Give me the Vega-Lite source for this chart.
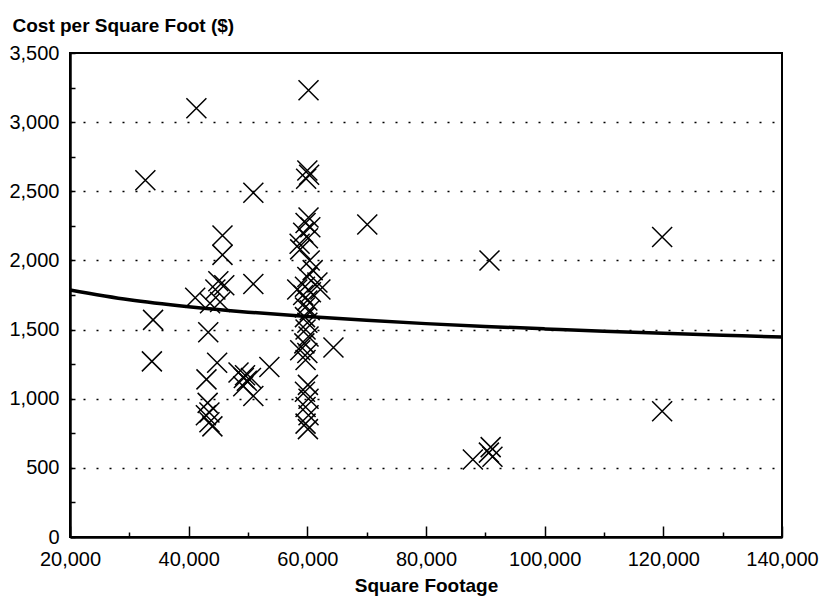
{
  "$schema": "https://vega.github.io/schema/vega-lite/v6.json",
  "width": 712,
  "height": 484,
  "autosize": {"type": "none"},
  "padding": {"left": 70, "top": 53, "right": 37, "bottom": 63},
  "background": "white",
  "config": {
    "view": {"stroke": "black", "strokeWidth": 2},
    "axis": {
      "labelFont": "Liberation Sans",
      "labelFontSize": 20,
      "labelColor": "black",
      "titleFont": "Liberation Sans",
      "titleFontSize": 19,
      "titleFontWeight": "bold",
      "titleColor": "black",
      "domainColor": "black",
      "domainWidth": 2.5,
      "tickColor": "black",
      "tickWidth": 1.5
    }
  },
  "datasets": {
    "points": [
      {"sqft": 32700, "cost": 2580}, {"sqft": 41300, "cost": 3100}, {"sqft": 60200, "cost": 3230},
      {"sqft": 34000, "cost": 1570}, {"sqft": 33800, "cost": 1270}, {"sqft": 50900, "cost": 2490},
      {"sqft": 70100, "cost": 2260}, {"sqft": 90700, "cost": 2000}, {"sqft": 119800, "cost": 2170},
      {"sqft": 119800, "cost": 910}, {"sqft": 87900, "cost": 560}, {"sqft": 90600, "cost": 610},
      {"sqft": 90900, "cost": 650}, {"sqft": 91200, "cost": 580}, {"sqft": 64400, "cost": 1370},
      {"sqft": 53600, "cost": 1230},
      {"sqft": 41100, "cost": 1730}, {"sqft": 43600, "cost": 1690}, {"sqft": 44500, "cost": 1790},
      {"sqft": 45000, "cost": 1850}, {"sqft": 46000, "cost": 1820}, {"sqft": 45300, "cost": 1700},
      {"sqft": 45700, "cost": 2180}, {"sqft": 45700, "cost": 2040}, {"sqft": 43300, "cost": 1480},
      {"sqft": 44800, "cost": 1260}, {"sqft": 43000, "cost": 1140}, {"sqft": 43200, "cost": 970},
      {"sqft": 43500, "cost": 900}, {"sqft": 42900, "cost": 880}, {"sqft": 43500, "cost": 830},
      {"sqft": 44000, "cost": 800}, {"sqft": 50900, "cost": 1830}, {"sqft": 48400, "cost": 1190},
      {"sqft": 49500, "cost": 1170}, {"sqft": 50500, "cost": 1150}, {"sqft": 49200, "cost": 1090},
      {"sqft": 50900, "cost": 1020}, {"sqft": 49800, "cost": 1130}, {"sqft": 49300, "cost": 1150},
      {"sqft": 60000, "cost": 2650}, {"sqft": 59800, "cost": 2590}, {"sqft": 60300, "cost": 2620},
      {"sqft": 60200, "cost": 2310}, {"sqft": 59700, "cost": 2270}, {"sqft": 60500, "cost": 2240},
      {"sqft": 59300, "cost": 2200}, {"sqft": 60100, "cost": 2160}, {"sqft": 58700, "cost": 2120},
      {"sqft": 58800, "cost": 2080}, {"sqft": 60400, "cost": 2000}, {"sqft": 60900, "cost": 1930},
      {"sqft": 60000, "cost": 1880}, {"sqft": 61700, "cost": 1840}, {"sqft": 59600, "cost": 1810},
      {"sqft": 62200, "cost": 1790}, {"sqft": 58300, "cost": 1790}, {"sqft": 60600, "cost": 1770},
      {"sqft": 59300, "cost": 1750}, {"sqft": 60000, "cost": 1710}, {"sqft": 59600, "cost": 1660},
      {"sqft": 60400, "cost": 1640}, {"sqft": 59600, "cost": 1590}, {"sqft": 60000, "cost": 1550},
      {"sqft": 59700, "cost": 1500}, {"sqft": 60200, "cost": 1450}, {"sqft": 59500, "cost": 1400},
      {"sqft": 58800, "cost": 1350}, {"sqft": 60000, "cost": 1330}, {"sqft": 59700, "cost": 1280},
      {"sqft": 60100, "cost": 1100}, {"sqft": 59600, "cost": 1050}, {"sqft": 60200, "cost": 1000},
      {"sqft": 59700, "cost": 940}, {"sqft": 60200, "cost": 880}, {"sqft": 59700, "cost": 820},
      {"sqft": 60100, "cost": 780}
    ],
    "trend": [
      {"sqft": 20000, "cost": 1786}, {"sqft": 30000, "cost": 1715}, {"sqft": 40000, "cost": 1665},
      {"sqft": 50000, "cost": 1626}, {"sqft": 60000, "cost": 1594}, {"sqft": 70000, "cost": 1567},
      {"sqft": 80000, "cost": 1543}, {"sqft": 90000, "cost": 1523}, {"sqft": 100000, "cost": 1505},
      {"sqft": 110000, "cost": 1488}, {"sqft": 120000, "cost": 1473}, {"sqft": 130000, "cost": 1459},
      {"sqft": 140000, "cost": 1446}
    ]
  },
  "encoding": {
    "x": {
      "field": "sqft", "type": "quantitative",
      "scale": {"domain": [20000, 140000], "nice": false, "zero": false},
      "axis": {
        "title": "Square Footage",
        "values": [20000, 30000, 40000, 50000, 60000, 70000, 80000, 90000, 100000, 110000, 120000, 130000, 140000],
        "labelExpr": "datum.value % 20000 === 0 ? format(datum.value, ',d') : ''",
        "tickSize": {"condition": {"test": "datum.value % 20000 === 0", "value": -11}, "value": -5},
        "labelPadding": 23,
        "labelFlush": false,
        "labelOverlap": false,
        "grid": false,
        "titlePadding": 1
      }
    },
    "y": {
      "field": "cost", "type": "quantitative",
      "scale": {"domain": [0, 3500], "nice": false},
      "axis": {
        "title": "Cost per Square Foot ($)",
        "titleAngle": 0,
        "titleAlign": "left",
        "titleBaseline": "alphabetic",
        "titleX": -58,
        "titleY": -22,
        "values": [0, 250, 500, 750, 1000, 1250, 1500, 1750, 2000, 2250, 2500, 2750, 3000, 3250, 3500],
        "labelExpr": "datum.value % 500 === 0 ? format(datum.value, ',d') : ''",
        "tickSize": -5,
        "labelPadding": 16,
        "labelFlush": false,
        "labelOverlap": false,
        "grid": true,
        "gridColor": "black",
        "gridWidth": 1.5,
        "gridDash": [2, 11],
        "gridOpacity": {"condition": {"test": "datum.value % 500 === 0 && datum.value > 0 && datum.value < 3500", "value": 1}, "value": 0}
      }
    }
  },
  "layer": [
    {
      "data": {"name": "points"},
      "mark": {
        "type": "point",
        "shape": "M-1,-1L1,1M-1,1L1,-1",
        "size": 400,
        "filled": false,
        "stroke": "black",
        "strokeWidth": 1.5,
        "opacity": 1
      }
    },
    {
      "data": {"name": "trend"},
      "mark": {"type": "line", "color": "black", "strokeWidth": 3.5, "interpolate": "monotone"}
    }
  ]
}
